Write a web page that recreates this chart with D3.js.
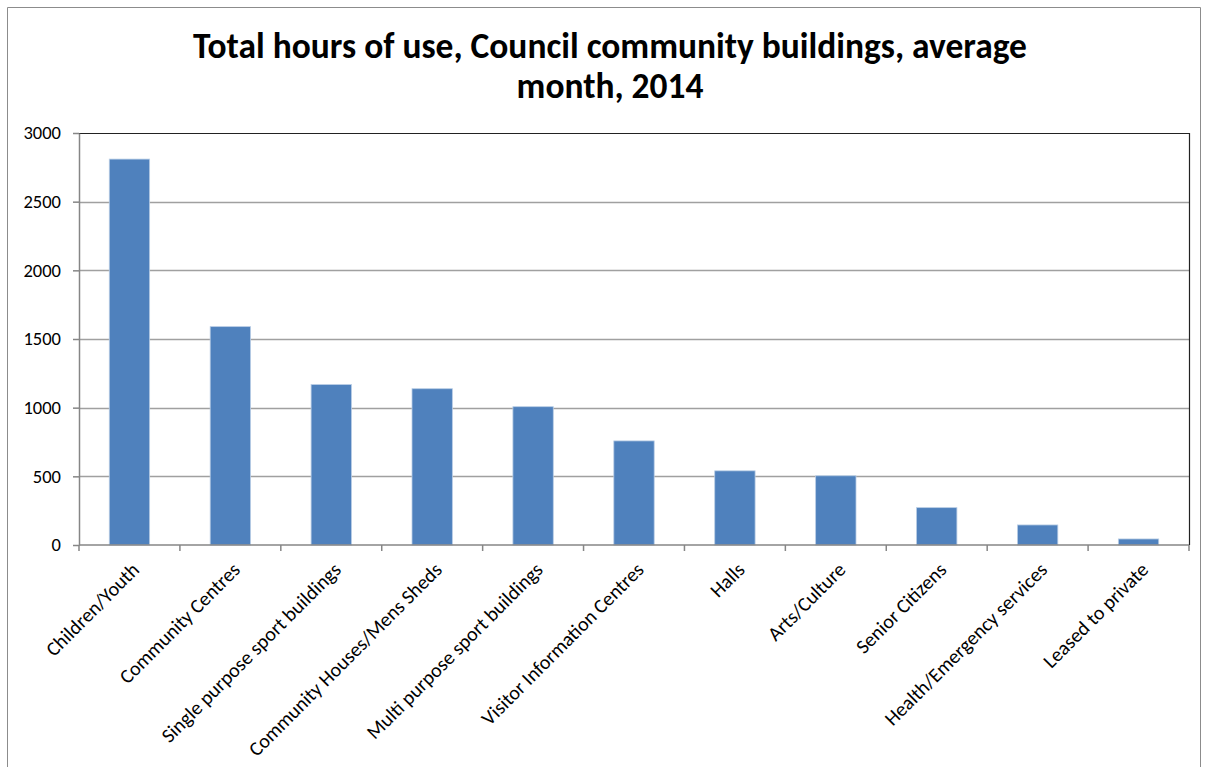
<!DOCTYPE html>
<html><head><meta charset="utf-8">
<script src="https://cdn.jsdelivr.net/npm/d3@7"></script>
<style>body{margin:0;background:#fff}svg{display:block}</style>
</head><body>
<svg id="c" width="1207" height="767"></svg>
<script>
const categories = ["Children/Youth","Community Centres","Single purpose sport buildings","Community Houses/Mens Sheds","Multi purpose sport buildings","Visitor Information Centres","Halls","Arts/Culture","Senior Citizens","Health/Emergency services","Leased to private"];
const hours = [2810,1590,1168,1138,1007,758,540,504,272,146,44];
const yTicks = [0,500,1000,1500,2000,2500,3000];
const titleLines = ["Total hours of use, Council community buildings, average","month, 2014"];

const svg = d3.select("#c");
const m = {l:79, t:133, r:1189, b:545};
const font = "Carlito, Calibri, Lato, 'Open Sans', sans-serif";

// chart frame
svg.append("path").attr("d","M7.5,767 V7.5 H1200.5 V767").attr("fill","none").attr("stroke","#8c8c8c").attr("stroke-width",1);

const x = d3.scaleBand().domain(categories).range([m.l,m.r]).paddingInner(0.6).paddingOuter(0.3);
const xb = d3.scaleBand().domain(categories).range([m.l,m.r]);
const y = d3.scaleLinear().domain([0,3000]).range([m.b,m.t]);

// gridlines
svg.append("g").selectAll("line").data(yTicks.filter(d=>d>0&&d<3000)).join("line")
  .attr("x1",m.l).attr("x2",m.r).attr("y1",d=>Math.round(y(d))+0.5).attr("y2",d=>Math.round(y(d))+0.5)
  .attr("stroke","#a0a0a0").attr("stroke-width",1.5);

// plot border top/right
svg.append("path").attr("d",`M${m.l},${m.t+0.5} H${m.r+0.5} V${m.b}`).attr("fill","none").attr("stroke","#222").attr("stroke-width",1.2);

// bars
svg.append("g").selectAll("rect").data(categories).join("rect")
  .attr("x",d=>x(d)).attr("width",x.bandwidth())
  .attr("y",(d,i)=>y(hours[i])).attr("height",(d,i)=>y(0)-y(hours[i]))
  .attr("fill","#4f81bd").attr("stroke","#b9cde5").attr("stroke-width",0.8);

// y axis
const ya = svg.append("g").attr("transform",`translate(${m.l},0)`)
  .call(d3.axisLeft(y).tickValues(yTicks).tickFormat(d3.format("d")).tickSize(6).tickPadding(12).tickSizeOuter(0));
ya.select(".domain").attr("stroke","#868686").attr("stroke-width",1.5);
ya.selectAll(".tick line").attr("stroke","#868686").attr("stroke-width",1.5);
ya.selectAll("text").attr("font-family",font).attr("font-size",18.5).attr("fill","#000");

// x axis
const xa = svg.append("g").attr("transform",`translate(0,${m.b})`);
xa.append("line").attr("x1",m.l).attr("x2",m.r).attr("stroke","#868686").attr("stroke-width",1.5);
const bounds = categories.map(d=>xb(d)).concat([m.r]);
xa.selectAll("line.tk").data(bounds).join("line").attr("class","tk")
  .attr("x1",d=>d).attr("x2",d=>d).attr("y1",0).attr("y2",6).attr("stroke","#868686").attr("stroke-width",1.5);
xa.selectAll("text").data(categories).join("text")
  .attr("text-anchor","end")
  .attr("transform",d=>`translate(${xb(d)+xb.bandwidth()/2+11},${26}) rotate(-45)`)
  .attr("font-family",font).attr("font-size",20).attr("fill","#000")
  .text(d=>d);

// title
const tt = svg.append("g").selectAll("text").data(titleLines).join("text")
  .attr("x",610).attr("y",(d,i)=>58+i*40).attr("text-anchor","middle")
  .attr("font-family",font).attr("font-weight","bold").attr("font-size",30).attr("fill","#000")
  .text(d=>d);
const w0 = tt.nodes()[0].getComputedTextLength();
tt.attr("font-size", 30*834/w0);
</script>
</body></html>
